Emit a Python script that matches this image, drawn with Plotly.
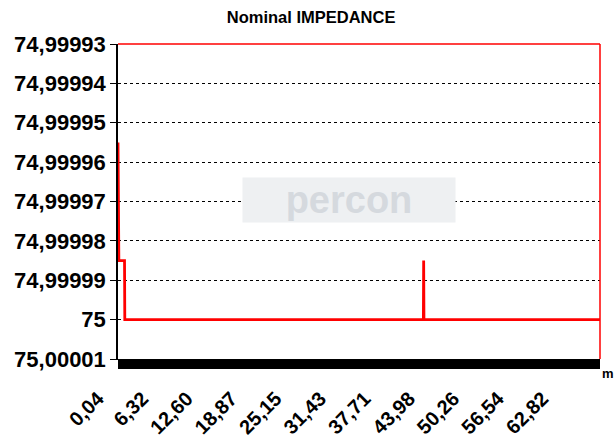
"""Nominal impedance trace along the cable."""

import plotly.graph_objects as go

# distance (m) and impedance (ohm) at the points where the trace changes
distance = [0.04, 0.08, 0.12, 0.16, 0.96, 1.00, 43.16, 43.20, 43.24, 68.10]
impedance = [74.999955, 74.999985, 74.999985, 74.999985, 74.999985, 75.0, 75.0, 74.999985, 75.0, 75.0]

x_tickvals = [0.04, 6.32, 12.60, 18.87, 25.15, 31.43, 37.71, 43.98, 50.26, 56.54, 62.82]
x_ticktext = ["0,04", "6,32", "12,60", "18,87", "25,15", "31,43", "37,71", "43,98", "50,26", "56,54", "62,82"]

y_tickvals = [74.99993, 74.99994, 74.99995, 74.99996, 74.99997, 74.99998, 74.99999, 75.0, 75.00001]
y_ticktext = ["74,99993", "74,99994", "74,99995", "74,99996", "74,99997", "74,99998", "74,99999", "75", "75,00001"]

FONT = "Liberation Sans"

fig = go.Figure(
    go.Scatter(
        x=distance,
        y=impedance,
        mode="lines",
        line={"color": "#ff0000", "width": 2.8},
        hoverinfo="x+y",
    )
)

fig.update_layout(
    width=616,
    height=443,
    margin={"l": 118, "r": 16, "t": 44, "b": 84, "autoexpand": False},
    paper_bgcolor="white",
    plot_bgcolor="white",
    showlegend=False,
    font={"family": FONT, "color": "black"},
    title={
        "text": "<b>Nominal IMPEDANCE</b>",
        "x": 0.505,
        "xanchor": "center",
        "y": 0.962,
        "yanchor": "middle",
        "font": {"size": 16.5, "family": FONT, "color": "black"},
    },
    xaxis={
        "range": [0.04, 68.1],
        "tickmode": "array",
        "tickvals": x_tickvals,
        "ticktext": ["<b>%s</b>" % t for t in x_ticktext],
        "tickangle": -45,
        "tickfont": {"size": 20, "family": FONT, "color": "black"},
        "ticks": "outside",
        "ticklen": 9,
        "tickcolor": "black",
        "ticklabelstandoff": 10,
        "ticklabelshift": -20,
        "automargin": False,
        "showgrid": False,
        "zeroline": False,
        "showline": True,
        "linecolor": "black",
        "minor": {"ticks": "outside", "ticklen": 9, "tickcolor": "black", "tick0": 0.04, "dtick": 0.1, "showgrid": False},
    },
    yaxis={
        "range": [75.00001, 74.99993],
        "tickmode": "array",
        "tickvals": y_tickvals,
        "ticktext": ["<b>%s</b>" % t for t in y_ticktext],
        "tickfont": {"size": 22, "family": FONT, "color": "black"},
        "ticks": "outside",
        "ticklen": 6,
        "tickcolor": "black",
        "automargin": False,
        "showgrid": True,
        "gridcolor": "black",
        "griddash": "dot",
        "gridwidth": 1,
        "zeroline": False,
        "showline": True,
        "linecolor": "black",
        "linewidth": 1.5,
    },
    shapes=[
        # red frame on top and right side of the plot area
        {"type": "line", "xref": "paper", "yref": "paper", "x0": 0, "x1": 1, "y0": 1, "y1": 1,
         "line": {"color": "#ff0000", "width": 1.5}},
        {"type": "line", "xref": "paper", "yref": "paper", "x0": 1, "x1": 1, "y0": 0, "y1": 1,
         "line": {"color": "#ff0000", "width": 1.5}},
    ],
    annotations=[
        {
            "text": "<b>percon</b>",
            "xref": "paper",
            "yref": "paper",
            "x": 0.48,
            "y": 0.506,
            "showarrow": False,
            "width": 210,
            "height": 42,
            "bgcolor": "#eef0f2",
            "font": {"size": 38, "family": FONT, "color": "#d5d9de"},
        },
        {
            "text": "<b>m</b>",
            "xref": "paper",
            "yref": "paper",
            "x": 1.0,
            "y": -0.045,
            "xanchor": "left",
            "yanchor": "middle",
            "showarrow": False,
            "font": {"size": 13, "family": FONT, "color": "black"},
        },
    ],
)

# the page's default body margin would shift the whole chart by 8 px
fig.write_html(
    "out.html",
    config={"displayModeBar": False},
    post_script="document.body.style.margin = '0';",
)
